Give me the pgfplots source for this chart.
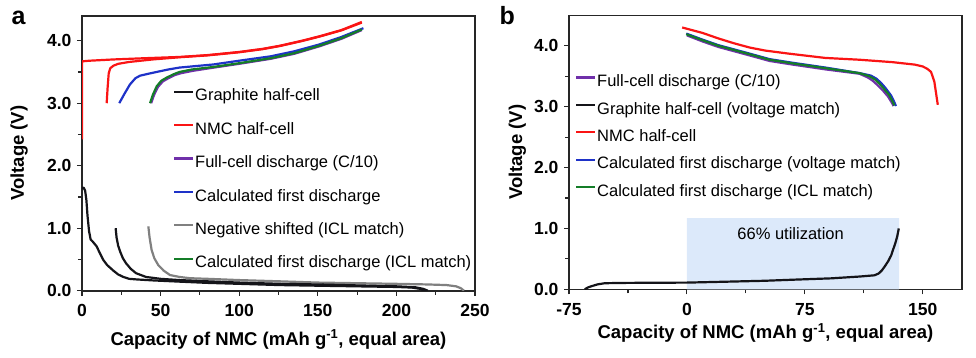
\documentclass[border=0pt]{standalone}
\usepackage{fontspec}
\setmainfont{Liberation Sans}
\usepackage{pgfplots}
\pgfplotsset{compat=1.18}
\definecolor{cred}{RGB}{250,20,20}
\definecolor{cblue}{RGB}{30,50,200}
\definecolor{cgreen}{RGB}{20,125,40}
\definecolor{cpurple}{RGB}{112,48,170}
\definecolor{cgray}{RGB}{128,128,128}
\definecolor{cblack}{RGB}{20,20,25}
\definecolor{cfill}{RGB}{220,233,250}
\pgfplotsset{
 myaxis/.style={
  scale only axis, width=393pt,
  axis line style={line width=1.6pt, black!85},
  tick align=outside, xtick pos=bottom, ytick pos=left,
  major tick length=5pt, minor tick length=4pt,
  every tick/.style={line width=1.1pt, black!85},
  ticklabel style={font=\fontsize{17.5}{17.5}\selectfont\bfseries},
  /pgf/number format/assume math mode=true,
  xticklabel style={anchor=base, yshift=-21pt},
  yticklabel style={xshift=-2pt, /pgf/number format/.cd, fixed, fixed zerofill, precision=1},
  legend cell align=left,
  legend style={draw=none, fill=none, font=\fontsize{16.5}{16.5}\selectfont, inner sep=0pt, outer sep=0pt, anchor=north west, column sep=1pt, nodes={inner sep=0pt, text height=12pt, text depth=3.5pt}},
  legend image code/.code={\draw[#1, line width=2.2pt] (0pt,5pt) -- (19pt,5pt);},
  ymin=0,
  ytick={0,1,2,3,4}, minor ytick={0.5,1.5,2.5,3.5},
  every axis plot/.append style={line width=2.2pt, line join=round},
  xlabel style={font=\fontsize{18.5}{18.5}\selectfont\bfseries, anchor=base},
  ylabel style={font=\fontsize{18.5}{18.5}\selectfont\bfseries, rotate=0, anchor=base},
 }
}
\begin{document}
\begin{tikzpicture}
\useasboundingbox (0,0) rectangle (976pt,357pt);
\node[anchor=base west, font=\fontsize{25}{25}\selectfont\bfseries] at (8pt,332pt) {a};
\node[anchor=base west, font=\fontsize{25}{25}\selectfont\bfseries] at (496pt,332pt) {b};
% ---------------- panel a
\begin{axis}[myaxis, at={(82pt,66.3pt)}, anchor=south west, height=275pt,
  xmin=0, xmax=250, ymax=4.4,
  xtick={0,50,100,150,200,250}, minor xtick={25,75,125,175,225},
  xlabel={Capacity of NMC (mAh g\textsuperscript{-1}, equal area)},
  ylabel={Voltage (V)},
  xlabel style={at={(axis description cs:0.5,-0.1975)}},
  ylabel style={at={(axis description cs:-0.1476,0.5)}},
  legend style={at={(axis description cs:0.2316,0.7335)}, row sep=17.9pt},
]
\addplot[cblack] coordinates {(0,1.64) (1,1.65) (2,1.60) (2.8,1.45) (3.5,1.2) (4.5,0.95) (5.5,0.82) (7,0.78) (9.3,0.71) (11,0.62) (13.6,0.49) (16,0.41) (20,0.32) (23,0.26) (26.3,0.22) (30,0.19) (35,0.18) (45,0.165) (62,0.145) (80,0.125) (100,0.11) (126,0.09) (150,0.08) (175,0.07) (200,0.06) (210,0.05) (215,0.03) (218,0.0)};
\addlegendentry{Graphite half-cell}
\addplot[cred] coordinates {(0,2.42) (0,3.67) (5,3.68) (20,3.70) (40,3.72) (62,3.74) (80,3.77) (100,3.82) (115,3.87) (126,3.92) (140,4.0) (151,4.07) (165,4.17) (178,4.30)};
\addlegendentry{NMC half-cell}
\addplot[cred, forget plot] coordinates {(15.7,3.0) (16.3,3.25) (17,3.48) (18,3.56) (20,3.60) (23,3.63) (30,3.66) (45,3.70) (62,3.735) (80,3.765) (100,3.815) (115,3.865) (126,3.915) (140,3.995) (151,4.065) (165,4.165) (178,4.29)};
\addplot[cpurple] coordinates {(44,3.0) (45.8,3.13) (48.3,3.26) (51.5,3.35) (55,3.40) (59,3.45) (63,3.48) (71,3.52) (84,3.57) (100,3.63) (120,3.71) (135,3.79) (151,3.91) (165,4.03) (178,4.17)};
\addlegendentry{Full-cell discharge (C/10)}
\addplot[cblue] coordinates {(23.7,3.0) (27,3.15) (30.5,3.30) (34,3.40) (36.9,3.44) (42,3.47) (47.5,3.50) (55,3.54) (62,3.57) (83.6,3.62) (100,3.68) (120,3.75) (135,3.83) (151,3.94) (165,4.06) (179,4.2)};
\addlegendentry{Calculated first discharge}
\addplot[cgray] coordinates {(42.2,1.03) (43,0.85) (44.3,0.65) (46,0.52) (48.5,0.41) (52,0.32) (56,0.25) (62,0.22) (68.7,0.2) (80,0.19) (100,0.17) (126,0.15) (150,0.13) (175,0.12) (200,0.11) (220,0.1) (232,0.09) (238,0.07) (241,0.04) (243,0.0)};
\addlegendentry{Negative shifted (ICL match)}
\addplot[cblack, forget plot] coordinates {(21.4,1.0) (22,0.85) (23,0.72) (24.2,0.63) (26,0.52) (28,0.44) (31,0.35) (34.4,0.28) (40.7,0.22) (50,0.19) (62,0.17) (80,0.15) (100,0.13) (126,0.11) (150,0.1) (175,0.085) (200,0.07) (212,0.055) (217,0.03) (220,0.0)};
\addplot[cgreen] coordinates {(43.3,3.0) (45,3.13) (47.5,3.27) (50.5,3.36) (53.9,3.41) (58,3.46) (62,3.50) (70,3.54) (83.6,3.58) (100,3.64) (120,3.72) (135,3.80) (151,3.92) (165,4.04) (178,4.18)};
\addlegendentry{Calculated first discharge (ICL match)}
\end{axis}
% ---------------- panel b
\begin{axis}[myaxis, at={(569pt,67.7pt)}, anchor=south west, height=274pt,
  xmin=-75, xmax=175, ymax=4.5,
  xtick={-75,0,75,150}, xticklabels={-75,0,75,150}, minor xtick={-37.5,37.5,112.5},
  xlabel={Capacity of NMC (mAh g\textsuperscript{-1}, equal area)},
  ylabel={Voltage (V)},
  xlabel style={at={(axis description cs:0.5,-0.179)}},
  ylabel style={at={(axis description cs:-0.1196,0.5)}},
  legend style={at={(axis description cs:0.0153,0.783)}, row sep=11.9pt},
]
\addplot[fill=cfill, draw=none, forget plot, line width=0pt] coordinates {(0,0) (135,0) (135,1.17) (0,1.17)} \closedcycle;
\node[font=\fontsize{16.5}{16.5}\selectfont] at (axis cs:66,0.92) {66\% utilization};
\addplot[cpurple] coordinates {(0,4.17) (10,4.07) (20,3.98) (30,3.91) (40,3.84) (52.6,3.75) (67.4,3.69) (88.6,3.61) (109.8,3.54) (115,3.48) (118,3.43) (121,3.36) (124.5,3.27) (127.8,3.17) (130,3.08) (131.5,3.01)};
\addlegendentry{Full-cell discharge (C/10)}
\addplot[cblack] coordinates {(-65,0) (-63,0.03) (-60.8,0.05) (-57,0.08) (-52.3,0.1) (-40,0.105) (-20,0.108) (0,0.11) (25,0.125) (49.4,0.14) (70,0.16) (91.8,0.18) (110,0.21) (119.3,0.23) (122,0.26) (124,0.31) (125.7,0.37) (128,0.46) (130,0.56) (131,0.64) (132.5,0.75) (133.8,0.87) (134.8,1.0)};
\addlegendentry{Graphite half-cell (voltage match)}
\addplot[cred] coordinates {(-3,4.30) (10,4.21) (20,4.12) (30,4.04) (40,3.97) (50,3.92) (65,3.87) (88,3.80) (110,3.77) (131,3.73) (145,3.69) (150,3.66) (153,3.62) (155.3,3.57) (156.5,3.48) (157.4,3.41) (158.5,3.22) (159.6,3.03)};
\addlegendentry{NMC half-cell}
\addplot[cblue] coordinates {(-0.4,4.2) (10,4.1) (20,4.01) (30,3.94) (40,3.87) (52.6,3.78) (67.4,3.72) (88.6,3.64) (110,3.55) (117,3.51) (120.5,3.46) (123.5,3.39) (126.5,3.30) (129.7,3.19) (131.5,3.1) (133,3.01)};
\addlegendentry{Calculated first discharge (voltage match)}
\addplot[cgreen] coordinates {(-0.4,4.19) (10,4.09) (20,4.0) (30,3.93) (40,3.86) (52.6,3.77) (67.4,3.71) (88.6,3.63) (109.8,3.55) (116.1,3.50) (119.5,3.45) (122.4,3.38) (125.5,3.29) (128.7,3.19) (130.5,3.1) (132,3.02)};
\addlegendentry{Calculated first discharge (ICL match)}
\end{axis}
\end{tikzpicture}
\end{document}
